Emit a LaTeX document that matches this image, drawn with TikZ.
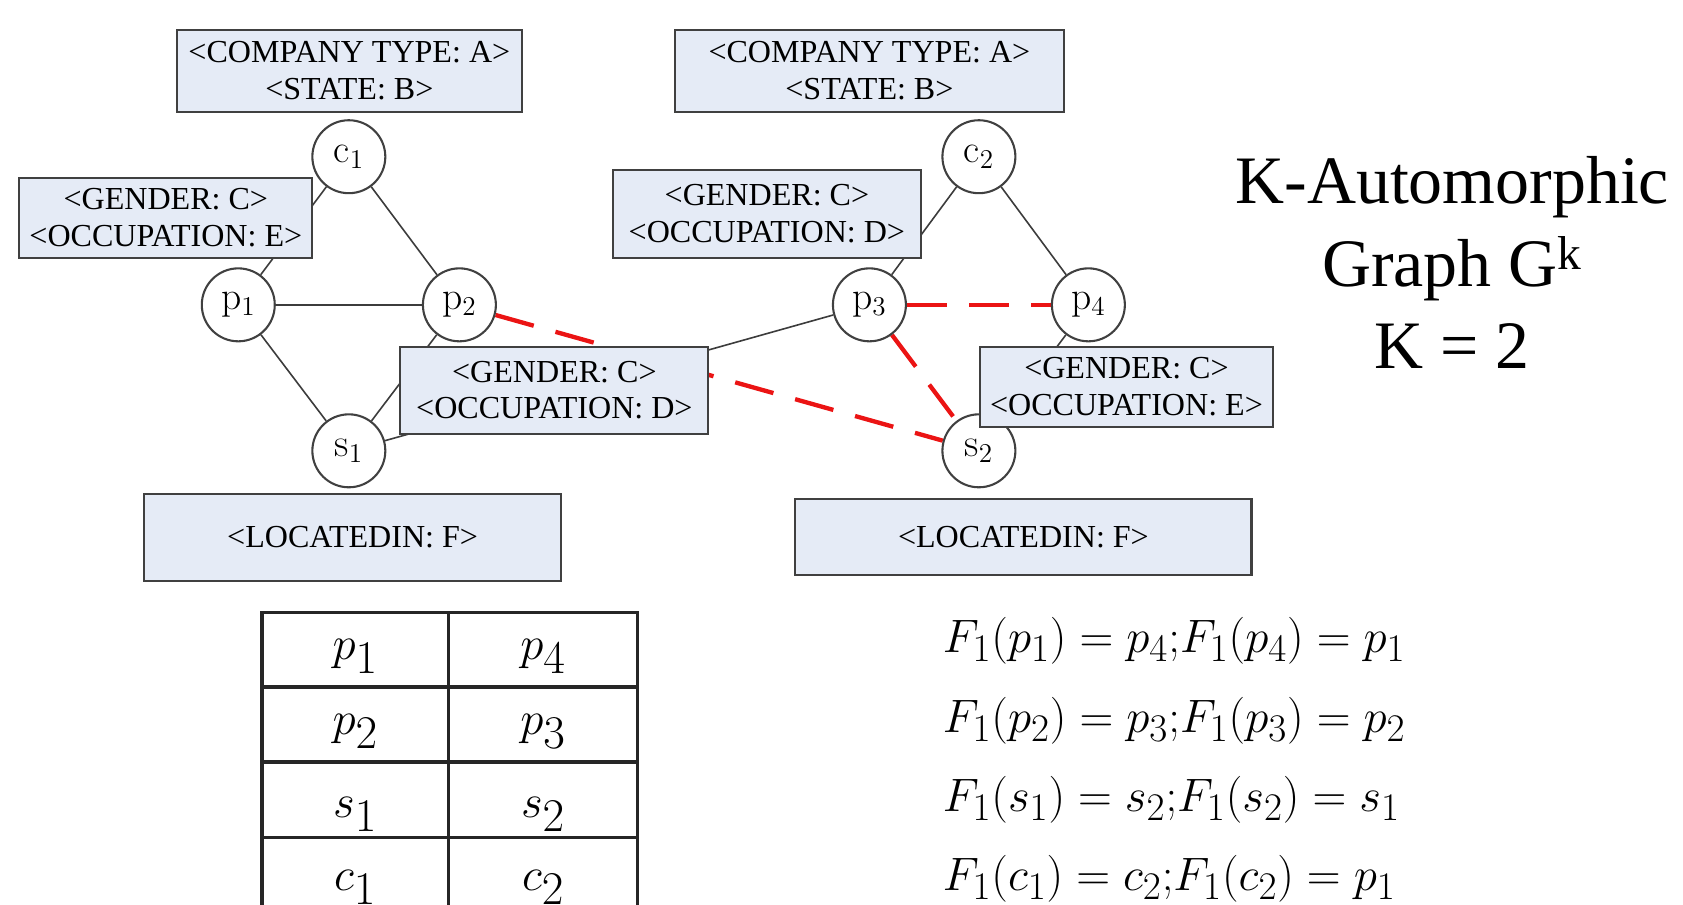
\documentclass[tikz,border=0pt]{standalone}
\usepackage{fontspec}
\newfontfamily\tnr{Liberation Serif}
\definecolor{boxfill}{RGB}{229,235,246}
\definecolor{boxline}{RGB}{64,64,64}
\definecolor{edgecol}{RGB}{60,60,60}
\definecolor{redline}{RGB}{235,20,20}
\pgfdeclarelayer{background}
\pgfsetlayers{background,main}
\newcommand\eqline[8]{$F_1(#1_{#2})=#3_{#4}{;}F_1(#5_{#6})=#7_{#8}$}
\tikzset{
  attbox/.style={draw=boxline, fill=boxfill, line width=1.1pt, rectangle, align=center, inner sep=0pt,
     font=\tnr\fontsize{17}{19.5}\selectfont},
  vert/.style={draw=boxline, fill=white, circle, line width=1.1pt, minimum size=1.36cm, inner sep=0pt,
     font=\fontsize{21}{21}\selectfont},
  edge/.style={draw=edgecol, line width=0.85pt},
  redge/.style={draw=redline, line width=2.3pt, dash pattern=on 0.74cm off 0.42cm},
  tabline/.style={draw=black!85, line width=1.7pt},
  cell/.style={anchor=base, font=\fontsize{33}{33}\selectfont, inner sep=0pt},
  eqn/.style={anchor=base west, font=\fontsize{28}{28}\selectfont, inner sep=0pt},
  title/.style={anchor=base, font=\tnr\fontsize{36}{36}\selectfont, inner sep=0pt}
}
\begin{document}
\begin{tikzpicture}[x=0.02cm, y=-0.02cm]
\useasboundingbox (0,0) rectangle (1568,843);
% graph vertices
\node[vert] (c1) at (325,146) {c$_1$};
\node[vert] (p1) at (222,284) {p$_1$};
\node[vert] (p2) at (428,284) {p$_2$};
\node[vert] (s1) at (325,420) {s$_1$};
\node[vert] (c2) at (912,146) {c$_2$};
\node[vert] (p3) at (810,284) {p$_3$};
\node[vert] (p4) at (1014,284) {p$_4$};
\node[vert] (s2) at (912,420) {s$_2$};
% edges, behind everything
\begin{pgfonlayer}{background}
\draw[edge] (c1) -- (p1);
\draw[edge] (c1) -- (p2);
\draw[edge] (p1) -- (p2);
\draw[edge] (p1) -- (s1);
\draw[edge] (p2) -- (s1);
\draw[edge] (s1) -- (p3);
\draw[edge] (c2) -- (p3);
\draw[edge] (c2) -- (p4);
\draw[edge] (p4) -- (s2);
\draw[redge] (p2) -- (s2);
\draw[redge] (p3) -- (p4);
\draw[redge] (p3) -- (s2);
\end{pgfonlayer}
% attribute boxes
\node[attbox, minimum width=6.42cm, minimum height=1.52cm] (comp1) at (325.5,66) {<COMPANY TYPE: A>\\<STATE: B>};
\node[attbox, minimum width=7.24cm, minimum height=1.52cm] (comp2) at (810,66) {<COMPANY TYPE: A>\\<STATE: B>};
\node[attbox, minimum width=5.46cm, minimum height=1.48cm] (genE1) at (154.5,203) {<GENDER: C>\\<OCCUPATION: E>};
\node[attbox, minimum width=5.74cm, minimum height=1.62cm] (genD1) at (516.5,363.5) {<GENDER: C>\\<OCCUPATION: D>};
\node[attbox, minimum width=7.78cm, minimum height=1.62cm] (loc1) at (328.5,500.5) {<LOCATEDIN: F>};
\node[attbox, minimum width=5.74cm, minimum height=1.64cm] (genD2) at (714.5,199) {<GENDER: C>\\<OCCUPATION: D>};
\node[attbox, minimum width=5.46cm, minimum height=1.50cm] (genE2) at (1049.5,360.5) {<GENDER: C>\\<OCCUPATION: E>};
\node[attbox, minimum width=8.50cm, minimum height=1.42cm] (loc2) at (953.5,500.5) {<LOCATEDIN: F>};
% title
\node[title] (t1) at (1353,190) {K-Automorphic};
\node[title] (t2) at (1353,267) {Graph G\textsuperscript{k}};
\node[title] (t3) at (1353,343) {K = 2};
% table
\draw[tabline] (244,843) -- (244,571) -- (594,571) -- (594,843);
\draw[tabline] (418,571) -- (418,843);
\draw[tabline] (244,640) -- (594,640);
\draw[tabline] (244,710) -- (594,710);
\draw[tabline] (244,780) -- (594,780);
\node[cell] (a1) at (331,614) {$p_1$};
\node[cell] (b1) at (506,614) {$p_4$};
\node[cell] (a2) at (331,684) {$p_2$};
\node[cell] (b2) at (506,684) {$p_3$};
\node[cell] (a3) at (331,762) {$s_1$};
\node[cell] (b3) at (506,762) {$s_2$};
\node[cell] (a4) at (331,830) {$c_1$};
\node[cell] (b4) at (506,830) {$c_2$};
% equations
\node[eqn] (e1) at (878,608) {\eqline{p}{1}{p}{4}{p}{4}{p}{1}};
\node[eqn] (e2) at (878,682) {\eqline{p}{2}{p}{3}{p}{3}{p}{2}};
\node[eqn] (e3) at (878,756) {\eqline{s}{1}{s}{2}{s}{2}{s}{1}};
\node[eqn] (e4) at (878,830) {\eqline{c}{1}{c}{2}{c}{2}{p}{1}};
\end{tikzpicture}
\end{document}
